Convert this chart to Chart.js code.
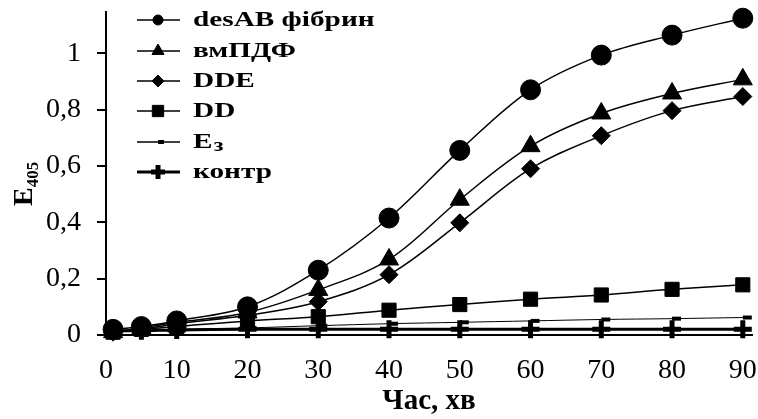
<!DOCTYPE html>
<html>
<head>
<meta charset="utf-8">
<script src="https://cdn.jsdelivr.net/npm/chart.js@4.4.0/dist/chart.umd.min.js"></script>
<style>
  html, body { margin: 0; padding: 0; background: #fff; }
  #wrap { width: 758px; height: 419px; }
  .probe { position: absolute; left: -1000px; top: 0; font-family: "Liberation Serif"; }
</style>
</head>
<body>
<span class="probe">0,8 Час <b>desAB фібрин</b></span>
<div id="wrap"><canvas id="chart" width="758" height="419"></canvas></div>
<script>
// time points, min
const times = [1, 5, 10, 20, 30, 40, 50, 60, 70, 80, 90];
const xTicks = [0, 10, 20, 30, 40, 50, 60, 70, 80, 90];
const yTicks = [0, 0.2, 0.4, 0.6, 0.8, 1];

// E405 values per substrate
const desAB = [0.02, 0.03, 0.05, 0.10, 0.23, 0.415, 0.655, 0.87, 0.993, 1.064, 1.124];
const vmPDF = [0.01, 0.025, 0.045, 0.08, 0.16, 0.268, 0.48, 0.67, 0.786, 0.857, 0.907];
const dde = [0.01, 0.02, 0.04, 0.07, 0.118, 0.214, 0.398, 0.59, 0.707, 0.796, 0.846];
const dd = [0.01, 0.02, 0.03, 0.05, 0.065, 0.088, 0.108, 0.127, 0.142, 0.162, 0.178];
const e3 = [0.01, 0.015, 0.02, 0.025, 0.033, 0.04, 0.045, 0.05, 0.055, 0.058, 0.062];
const kontr = [0.015, 0.015, 0.018, 0.02, 0.02, 0.02, 0.02, 0.02, 0.02, 0.02, 0.02];

const seriesNames = ['desAB фібрин', 'вмПДФ', 'DDE', 'DD', 'E3', 'контр'];

const serif = '"Liberation Serif", "Times New Roman", Times, serif';

const toPoints = (values) => values.map((v, i) => ({ x: times[i], y: v }));

const makeSet = (label, values, style, radius, lineWidth, markerWidth, legendRadius) => ({
    label: label,
    data: toPoints(values),
    borderColor: '#000',
    backgroundColor: '#000',
    borderWidth: lineWidth,
    pointStyle: style,
    pointRadius: radius,
    pointHoverRadius: radius,
    pointBorderWidth: markerWidth,
    pointBackgroundColor: '#000',
    pointBorderColor: '#000',
    tension: 0.35,
    fill: false,
    legendRadius: legendRadius
});

const datasets = [
    makeSet(seriesNames[5], kontr, 'cross', 9, 3, 5, 7),
    makeSet(seriesNames[4], e3, 'dash', 9, 1, 4, 6),
    makeSet(seriesNames[3], dd, 'rect', 10, 1.5, 1, 8),
    makeSet(seriesNames[2], dde, 'rectRot', 9, 1.5, 1, 6),
    makeSet(seriesNames[1], vmPDF, 'triangle', 11, 1.5, 1, 7),
    makeSet(seriesNames[0], desAB, 'circle', 10, 1.5, 1, 5)
];

// legend drawn inside the plot, top-left, like the original
const innerLegend = {
    id: 'innerLegend',
    afterDraw: (chart) => {
        const ctx = chart.ctx;
        const rowY = [20, 51, 81, 111, 142, 172];
        seriesNames.forEach((name, i) => {
            const ds = chart.data.datasets.find(d => d.label === name);
            const y = rowY[i];
            ctx.save();
            ctx.strokeStyle = '#000';
            ctx.fillStyle = '#000';
            ctx.lineWidth = name === 'контр' ? 3 : 1.5;
            ctx.beginPath();
            ctx.moveTo(137, y);
            ctx.lineTo(180, y);
            ctx.stroke();
            ctx.lineWidth = ds.pointBorderWidth;
            Chart.helpers.drawPoint(ctx, {
                pointStyle: ds.pointStyle,
                radius: ds.legendRadius,
                borderWidth: ds.pointBorderWidth,
                rotation: 0
            }, 158, y);
            ctx.restore();

            ctx.save();
            ctx.fillStyle = '#000';
            ctx.font = 'bold 22px ' + serif;
            ctx.textBaseline = 'middle';
            ctx.translate(193, y);
            ctx.scale(1.33, 1);
            if (name === 'E3') {
                ctx.fillText('E', 0, 0);
                const w = ctx.measureText('E').width;
                ctx.font = 'bold 18px ' + serif;
                ctx.fillText('з', w + 1, 4);
            } else {
                ctx.fillText(name, 0, 0);
            }
            ctx.restore();
        });

        // y axis title E405
        ctx.save();
        ctx.fillStyle = '#000';
        ctx.translate(32, 206);
        ctx.rotate(-Math.PI / 2);
        ctx.textBaseline = 'alphabetic';
        ctx.font = 'bold 28px ' + serif;
        ctx.fillText('E', 0, 0);
        const ew = ctx.measureText('E').width;
        ctx.font = 'bold 17px ' + serif;
        ctx.fillText('405', ew, 6);
        ctx.restore();
    }
};

// drop the half-label padding so the plot box sits where the original one does
const noEdgePadding = (axis) => {
    axis.paddingTop = 0;
    axis.paddingBottom = 0;
    axis.paddingLeft = 0;
    axis.paddingRight = 0;
};

const drawChart = () => {
    const ctxChart = document.getElementById('chart').getContext('2d');
    new Chart(ctxChart, {
        type: 'line',
        data: { datasets: datasets },
        options: {
            responsive: false,
            animation: false,
            events: [],
            layout: { autoPadding: false, padding: { left: 30, top: 12, right: 6, bottom: 0 } },
            plugins: {
                legend: { display: false },
                tooltip: { enabled: false }
            },
            clip: false,
            scales: {
                x: {
                    type: 'linear',
                    min: 0,
                    max: 91.3,
                    afterBuildTicks: (axis) => {
                        axis.ticks = xTicks.map(v => ({ value: v }));
                    },
                    afterFit: (axis) => {
                        noEdgePadding(axis);
                        axis.height = 84;
                    },
                    ticks: {
                        color: '#000',
                        padding: 19,
                        font: { family: serif, size: 28 }
                    },
                    grid: { drawOnChartArea: false, drawTicks: false },
                    border: { color: '#000', width: 2 },
                    title: {
                        display: true,
                        text: 'Час, хв',
                        color: '#000',
                        padding: { top: 0, bottom: 0 },
                        font: { family: serif, size: 29, weight: 'bold' }
                    }
                },
                y: {
                    type: 'linear',
                    min: 0,
                    max: 1.146,
                    afterBuildTicks: (axis) => {
                        axis.ticks = yTicks.map(v => ({ value: v }));
                    },
                    afterFit: noEdgePadding,
                    ticks: {
                        color: '#000',
                        padding: 16,
                        font: { family: serif, size: 28 },
                        callback: (v) => (Math.round(v * 10) / 10).toString().replace('.', ',')
                    },
                    grid: { drawOnChartArea: false, color: '#000', tickLength: 9, lineWidth: 2 },
                    border: { color: '#000', width: 2 }
                }
            }
        },
        plugins: [innerLegend]
    });
};

Promise.all([
    document.fonts.load('28px "Liberation Serif"'),
    document.fonts.load('bold 28px "Liberation Serif"')
]).then(drawChart, drawChart);
</script>
</body>
</html>
